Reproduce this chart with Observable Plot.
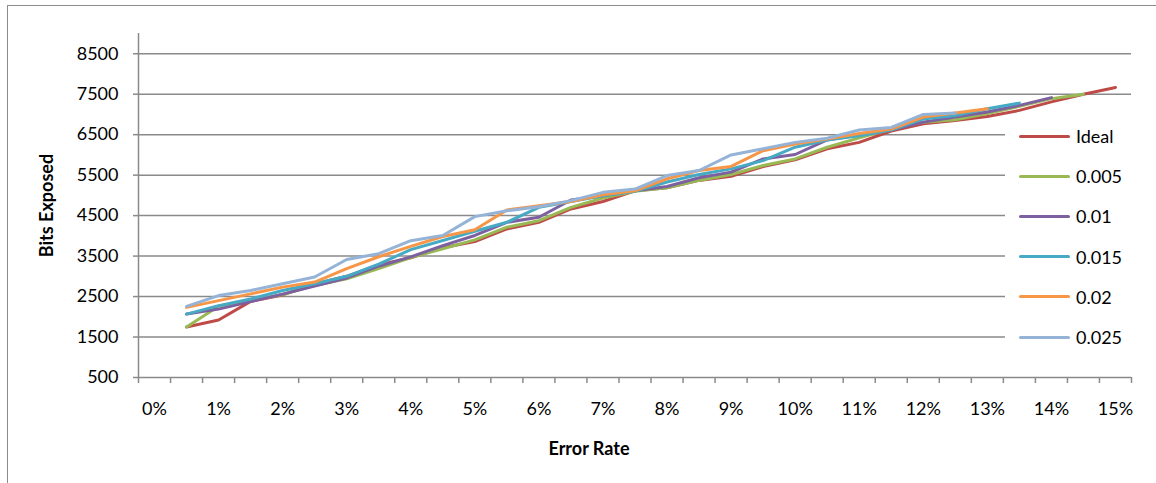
<!DOCTYPE html>
<html><head><meta charset="utf-8">
<script src="https://cdn.jsdelivr.net/npm/d3@7"></script>
<script src="https://cdn.jsdelivr.net/npm/@observablehq/plot@0.6"></script>
<style>
html,body{margin:0;padding:0;background:#fff;}
#chart{width:1156px;height:483px;overflow:hidden;position:relative;}
#frame{position:absolute;left:7px;top:5px;width:1300px;height:700px;border:1px solid #8c8c8c;box-sizing:border-box;pointer-events:none;}
#legend{position:absolute;left:1005px;top:118px;width:128px;height:238px;background:#fff;font-family:Lato,'Open Sans',sans-serif;font-size:18px;color:#000;}
#legend .item{position:absolute;left:0;height:20px;display:flex;align-items:center;}
#legend .sw{position:absolute;left:14px;width:51px;height:3px;border-radius:1.5px;}
#legend .lab{position:absolute;left:71px;white-space:nowrap;line-height:20px;top:0;}
</style></head><body><div id="chart"><div id="frame"></div></div>
<script>
// Categories (error rate), one per 0.5%
const errorRates = [0, 0.005, 0.01, 0.015, 0.02, 0.025, 0.03, 0.035, 0.04, 0.045, 0.05, 0.055, 0.06, 0.065, 0.07, 0.075, 0.08, 0.085, 0.09, 0.095, 0.1, 0.105, 0.11, 0.115, 0.12, 0.125, 0.13, 0.135, 0.14, 0.145, 0.15];
const xTickValues = [0, 0.01, 0.02, 0.03, 0.04, 0.05, 0.06, 0.07, 0.08, 0.09, 0.1, 0.11, 0.12, 0.13, 0.14, 0.15];
const xTickLabels = ["0%", "1%", "2%", "3%", "4%", "5%", "6%", "7%", "8%", "9%", "10%", "11%", "12%", "13%", "14%", "15%"];
const yTickValues = [500, 1500, 2500, 3500, 4500, 5500, 6500, 7500, 8500];
const seriesNames = ["Ideal", "0.005", "0.01", "0.015", "0.02", "0.025"];
const seriesColors = ["#BE4B48", "#98B954", "#7D60A0", "#46AAC5", "#F79646", "#95B3D7"];

const ideal = [null, 1750, 1920, 2380, 2540, 2810, 3000, 3280, 3460, 3705, 3860, 4170, 4335, 4665, 4850, 5115, 5190, 5370, 5470, 5715, 5880, 6150, 6310, 6590, 6767, 6850, 6950, 7100, 7310, 7500, 7667];
const err005 = [null, 1750, 2260, 2400, 2550, 2775, 2940, 3190, 3465, 3680, 3900, 4215, 4375, 4705, 4935, 5100, 5190, 5370, 5515, 5740, 5900, 6190, 6420, 6640, 6810, 6870, 7020, 7200, 7390, 7500, null];
const err010 = [null, 2067, 2190, 2375, 2560, 2760, 2960, 3250, 3480, 3760, 4010, 4335, 4460, 4885, 4990, 5115, 5220, 5435, 5575, 5900, 6010, 6370, 6500, 6615, 6810, 6935, 7060, 7225, 7415, null, null];
const err015 = [null, 2067, 2275, 2440, 2650, 2817, 3000, 3300, 3660, 3885, 4115, 4335, 4705, 4850, 4990, 5100, 5330, 5515, 5655, 5860, 6190, 6370, 6475, 6615, 6890, 6975, 7140, 7280, null, null, null];
const err020 = [null, 2233, 2400, 2567, 2733, 2858, 3192, 3483, 3740, 3985, 4150, 4640, 4745, 4850, 5015, 5115, 5410, 5615, 5715, 6105, 6270, 6390, 6530, 6640, 6935, 7035, 7140, null, null, null, null];
const err025 = [null, 2258, 2525, 2650, 2817, 2983, 3417, 3560, 3880, 4008, 4475, 4620, 4720, 4870, 5075, 5155, 5490, 5615, 6000, 6150, 6310, 6410, 6615, 6680, 7000, 7035, null, null, null, null, null];

const seriesValues = [ideal, err005, err010, err015, err020, err025];
const rows = [];
seriesNames.forEach((name, s) => {
  seriesValues[s].forEach((v, i) => {
    if (v != null) rows.push({series: name, rate: errorRates[i], value: v});
  });
});

const step = errorRates[1] - errorRates[0];
const xDomain = [errorRates[0] - step / 2, errorRates[errorRates.length - 1] + step / 2];
const boundaries = errorRates.map(r => r - step / 2).concat([xDomain[1]]);

const FONT = "Lato, 'Open Sans', sans-serif";
const GRID = "#8a8a8a";

const plot = Plot.plot({
  width: 1156, height: 483,
  marginLeft: 138, marginRight: 25, marginTop: 33, marginBottom: 106,
  style: {fontFamily: FONT, fontSize: "18px", color: "#000", background: "transparent", overflow: "visible"},
  x: {type: "linear", domain: xDomain, axis: null},
  y: {domain: [500, 9000], axis: null},
  color: {domain: seriesNames, range: seriesColors},
  marks: [
    Plot.ruleY(yTickValues.slice(1), {stroke: GRID, strokeWidth: 1.5}),
    Plot.ruleY([yTickValues[0]], {stroke: GRID, strokeWidth: 1.5}),
    Plot.ruleX([xDomain[0]], {stroke: GRID, strokeWidth: 1.5}),
    Plot.axisX({ticks: boundaries, tickSize: 6, tickFormat: () => "", label: null, stroke: GRID, strokeWidth: 1.5}),
    Plot.axisX({ticks: xTickValues, tickSize: 0, tickPadding: 25, label: null, tickFormat: d => xTickLabels[xTickValues.indexOf(d)], fill: "#000", fontSize: 18}),
    Plot.axisY({ticks: yTickValues, tickSize: 5, tickPadding: 15, label: null, tickFormat: d => String(d), stroke: GRID, strokeWidth: 1.5, fill: "#000", fontSize: 18}),
    Plot.lineY(rows, {x: "rate", y: "value", z: "series", stroke: "series", strokeWidth: 3, strokeLinejoin: "round", strokeLinecap: "round"}),
    Plot.text(["Bits Exposed"], {text: d => d, frameAnchor: "left", dx: -91, rotate: -90, fontWeight: "bold", fontSize: 18, textAnchor: "middle", lineAnchor: "middle", fill: "#000"}),
    Plot.text(["Error Rate"], {text: d => d, frameAnchor: "bottom", dx: -46, dy: 72, fontWeight: "bold", fontSize: 18, textAnchor: "middle", lineAnchor: "middle", fill: "#000"})
  ]
});

const chart = document.getElementById("chart");
chart.insertBefore(plot, chart.firstChild);

// legend, placed inside the plot area over the gridlines (as in the reference)
const legend = d3.select(chart).append("div").attr("id", "legend");
seriesNames.forEach((name, i) => {
  const item = legend.append("div").attr("class", "item").style("top", (8 + i * 40.2) + "px");
  item.append("div").attr("class", "sw").style("background", seriesColors[i]).style("top", "8.5px");
  item.append("div").attr("class", "lab").text(name);
});
</script>
</body></html>
